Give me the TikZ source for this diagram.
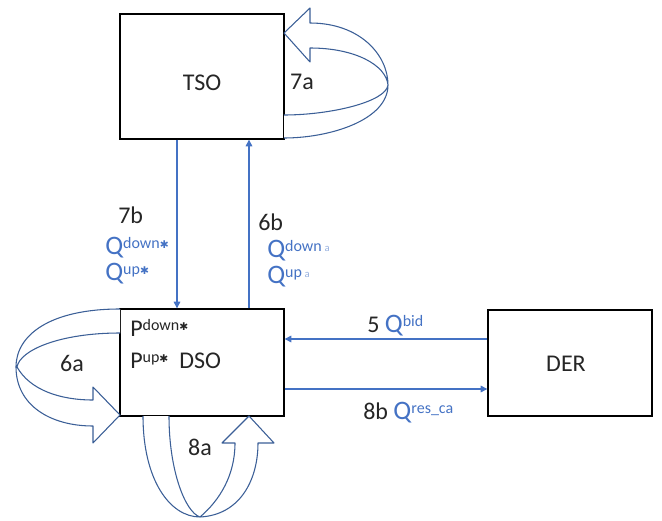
\documentclass[tikz,border=0pt]{standalone}
\usepackage{fontspec}
\setmainfont{Carlito}
\newfontfamily\symfont{DejaVu Sans}
\usetikzlibrary{arrows.meta}
\definecolor{qblue}{HTML}{4472C4}
\definecolor{loopblue}{HTML}{3B5F97}
\definecolor{numgrey}{HTML}{262626}
\newcommand{\st}{{\symfont\fontsize{8}{8}\selectfont ✱}}
\newcommand{\hi}[1]{\raisebox{4.5pt}{\fontsize{12}{12}\selectfont #1}}
\newcommand{\lo}[1]{\,{\fontsize{8}{8}\selectfont\color{qblue!55}#1}}
\newcommand{\bigq}{{\fontsize{20}{22}\selectfont Q}}
\tikzset{
  ent/.style={draw=black, line width=1pt, fill=white, minimum width=123pt, inner sep=0pt},
  lbl/.style={inner sep=0pt, text=numgrey, font=\fontsize{18}{21}\selectfont},
  qlbl/.style={lbl, text=qblue},
  flow/.style={draw=qblue, line width=0.8pt, -{Triangle[length=5pt,width=5pt]}},
  loopar/.style={draw=loopblue, line width=0.8pt, fill=white, line join=round},
}

\begin{document}
\begin{tikzpicture}[x=0.75pt, y=-0.75pt]
\useasboundingbox (0,0) rectangle (662,521);
% boxes
\node[ent, minimum height=93.75pt] (tso) at (202,76.5) {};
\node[ent, minimum height=80.25pt] (dso) at (202,362.5) {};
\node[ent, minimum height=79.5pt] (der) at (570,363) {};
% connectors
\coordinate (xdn) at (177,0);
\coordinate (xup) at (249,0);
\coordinate (ybid) at (0,339);
\coordinate (yres) at (0,389);
\draw[flow] (tso.south -| xdn) -- (dso.north -| xdn);
\draw[flow] (dso.north -| xup) -- (tso.south -| xup);
\draw[flow] (der.west |- ybid) -- (dso.east |- ybid);
\draw[flow] (dso.east |- yres) -- (der.west |- yres);
% loop 7a
\draw[loopar] (284,138) .. controls (330,138) and (388,120) .. (388,85)
  .. controls (388,55) and (360,23) .. (310,23) -- (310,8) -- (284,33) -- (310,62) -- (310,48)
  .. controls (355,48) and (386,65) .. (388,85)
  .. controls (386,102) and (330,115) .. (284,115);
% loop 6a
\draw[loopar] (120,309) .. controls (50,309) and (16,335) .. (16,367)
  .. controls (16,405) and (50,426) .. (93,426) -- (93,443) -- (120,415) -- (93,387) -- (93,400)
  .. controls (60,400) and (30,390) .. (17,367)
  .. controls (20,350) and (60,333) .. (120,333);
% loop 8a
\draw[loopar] (143,416) .. controls (143,480) and (170,517) .. (200,517)
  .. controls (240,515) and (258,480) .. (258,443) -- (274,443) -- (249,416) -- (222,443) -- (235,443)
  .. controls (235,475) and (220,500) .. (200,517)
  .. controls (185,512) and (169,470) .. (169,416);
% labels
\node[lbl] (tsolbl) at (202,83) {TSO};
\node[lbl] (derlbl) at (566,364) {DER};
\node[lbl, anchor=base west] (pdn) at (130,336) {P\hi{down\st}};
\node[lbl, anchor=base west] (pup) at (130,368) {P\hi{up\st}\ \ DSO};
\node[lbl, anchor=base west] (n7b) at (118,223) {7b};
\node[qlbl, anchor=base west] (q7dn) at (105,254) {\bigq\hi{down\st}};
\node[qlbl, anchor=base west] (q7up) at (105,280) {\bigq\hi{up\st}};
\node[lbl, anchor=base west] (n6b) at (258,230) {6b};
\node[qlbl, anchor=base west] (q6dn) at (267,257) {\bigq\hi{down\lo{a}}};
\node[qlbl, anchor=base west] (q6up) at (267,283) {\bigq\hi{up\lo{a}}};
\node[lbl, anchor=base west] (n5) at (367,332) {5 \textcolor{qblue}{\bigq\hi{bid}}};
\node[lbl, anchor=base west] (n8b) at (363,419) {8b \textcolor{qblue}{\bigq\hi{res\_ca}}};
\node[lbl] (n7a) at (302,82) {7a};
\node[lbl] (n6a) at (72,363) {6a};
\node[lbl] (n8a) at (200,447) {8a};
\end{tikzpicture}
\end{document}
